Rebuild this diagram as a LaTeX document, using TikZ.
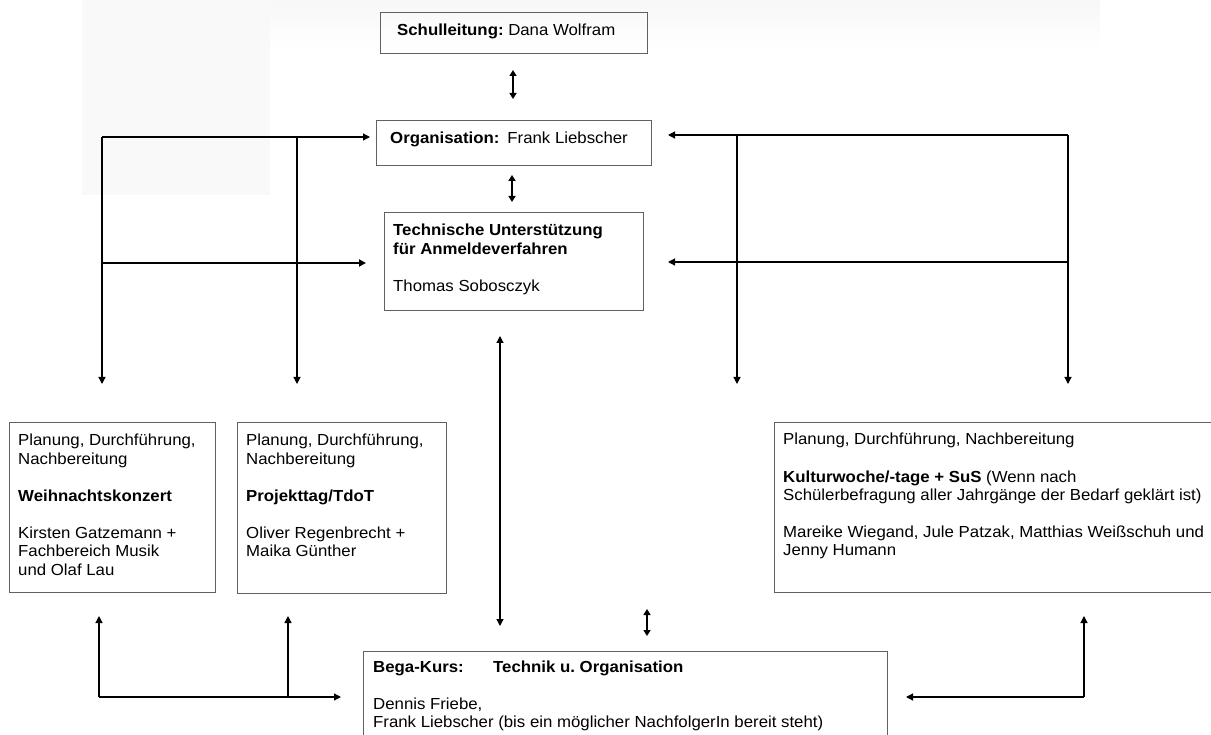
\documentclass[tikz,border=0pt]{standalone}
\usepackage{fontspec}
\setmainfont{Liberation Sans}[FakeStretch=1.05]
\usetikzlibrary{arrows.meta}
\frenchspacing
\newcommand\boxlines[1]{\begin{tabular}[t]{@{}l@{}}#1\end{tabular}}
\begin{document}
\begin{tikzpicture}[x=1pt,y=-1pt,
  frame/.style={draw=black!62,line width=1pt,inner sep=0pt,anchor=north west},
  txt/.style={inner sep=0pt,anchor=base west,font=\fontsize{16}{18.5}\selectfont\frenchspacing},
  conn/.style={line width=1.2pt,draw=black},
  tip/.style={},
  arr/.style={conn,-{Triangle[length=7pt,width=7pt]}},
  dbl/.style={line width=1.8pt,draw=black,{Triangle[length=6pt,width=7pt]}-{Triangle[length=6pt,width=7pt]}}]
\useasboundingbox (0,0) rectangle (1211,735);
% faint background
\fill[black!2.5] (82,0) rectangle (270,195);
\shade[top color=black!3,bottom color=white] (270,0) rectangle (1100,50);
% boxes
\node[frame,minimum width=267pt,minimum height=41pt] (sl) at (380,12) {};
\node[frame,minimum width=275pt,minimum height=45pt] (org) at (376,120) {};
\node[frame,minimum width=259pt,minimum height=98pt] (tech) at (384,212) {};
\node[frame,minimum width=206pt,minimum height=170pt] (wk) at (9,422) {};
\node[frame,minimum width=209pt,minimum height=171pt] (pt) at (237,422) {};
\node[frame,minimum width=441pt,minimum height=170pt] (kw) at (774,422) {};
\node[frame,minimum width=524pt,minimum height=95pt] (bega) at (363,651) {};
% texts
\node[txt] (slt) at (397,36) {\textbf{Schulleitung:} Dana Wolfram};
\node[txt] (orgt) at (390,144) {\textbf{Organisation:}\hspace{8pt}Frank Liebscher};
\node[txt] (techt) at (393,236) {\boxlines{\textbf{Technische Unterstützung}\\\textbf{für Anmeldeverfahren}\\ \\Thomas Sobosczyk}};
\node[txt] (wkt) at (18,446) {\boxlines{Planung, Durchführung,\\Nachbereitung\\ \\\textbf{Weihnachtskonzert}\\ \\Kirsten Gatzemann +\\Fachbereich Musik\\und Olaf Lau}};
\node[txt] (ptt) at (246,446) {\boxlines{Planung, Durchführung,\\Nachbereitung\\ \\\textbf{Projekttag/TdoT}\\ \\Oliver Regenbrecht +\\Maika Günther}};
\node[txt] (kwt) at (783,445) {\boxlines{Planung, Durchführung, Nachbereitung\\ \\\textbf{Kulturwoche/-tage + SuS} (Wenn nach\\Schülerbefragung aller Jahrgänge der Bedarf geklärt ist)\\ \\Mareike Wiegand, Jule Patzak, Matthias Weißschuh und\\Jenny Humann}};
\node[txt] (begat) at (373,672) {\boxlines{\textbf{Bega-Kurs:}\\ \\Dennis Friebe,\\Frank Liebscher (bis ein möglicher NachfolgerIn bereit steht)}};
\node[txt] (begat2) at (493,672) {\textbf{Technik u. Organisation}};
% coordinates
\coordinate (a1t) at (513,70);  \coordinate (a1b) at (513,99);
\coordinate (a2t) at (512,175); \coordinate (a2b) at (512,202);
\coordinate (lt1) at (102,137); \coordinate (lt2) at (297,137); \coordinate (ltE) at (370,137);
\coordinate (lm1) at (102,263); \coordinate (lm2) at (308,263); \coordinate (lmE) at (366,263);
\coordinate (ld1) at (102,384); \coordinate (ld2) at (297,384);
\coordinate (rt1) at (1068,135); \coordinate (rt2) at (737,135); \coordinate (rtE) at (668,135);
\coordinate (rm1) at (1068,262); \coordinate (rmE) at (668,262);
\coordinate (rd1) at (1068,384); \coordinate (rd2) at (737,384);
\coordinate (mt) at (500,336); \coordinate (mb) at (500,626);
\coordinate (st) at (647,609); \coordinate (sb) at (647,636);
\coordinate (bl1) at (99,697); \coordinate (bl2) at (288,697); \coordinate (blE) at (341,697);
\coordinate (bu1) at (99,616); \coordinate (bu2) at (288,616);
\coordinate (br1) at (1084,697); \coordinate (brE) at (906,697); \coordinate (bru) at (1084,616);
% connectors
\draw[dbl] (a1t) -- (a1b);
\draw[dbl] (a2t) -- (a2b);
\draw[arr] (lt1) -- (ltE);
\draw[arr] (lt1) -- (ld1);
\draw[arr] (lt2) -- (ld2);
\draw[conn] (lm1) -- (lm2);
\draw[line width=2.2pt,-{Triangle[length=7pt,width=7pt]}] (lm2) -- (lmE);
\draw[arr] (rt1) -- (rtE);
\draw[arr] (rt1) -- (rd1);
\draw[arr] (rt2) -- (rd2);
\draw[arr] (rm1) -- (rmE);
\draw[conn,{Triangle[length=7pt,width=7pt]}-{Triangle[length=7pt,width=7pt]}] (mt) -- (mb);
\draw[dbl] (st) -- (sb);
\draw[arr] (bl1) -- (bu1);
\draw[arr] (bl2) -- (bu2);
\draw[arr] (bl1) -- (blE);
\draw[arr] (br1) -- (bru);
\draw[arr] (br1) -- (brE);
\end{tikzpicture}
\end{document}
